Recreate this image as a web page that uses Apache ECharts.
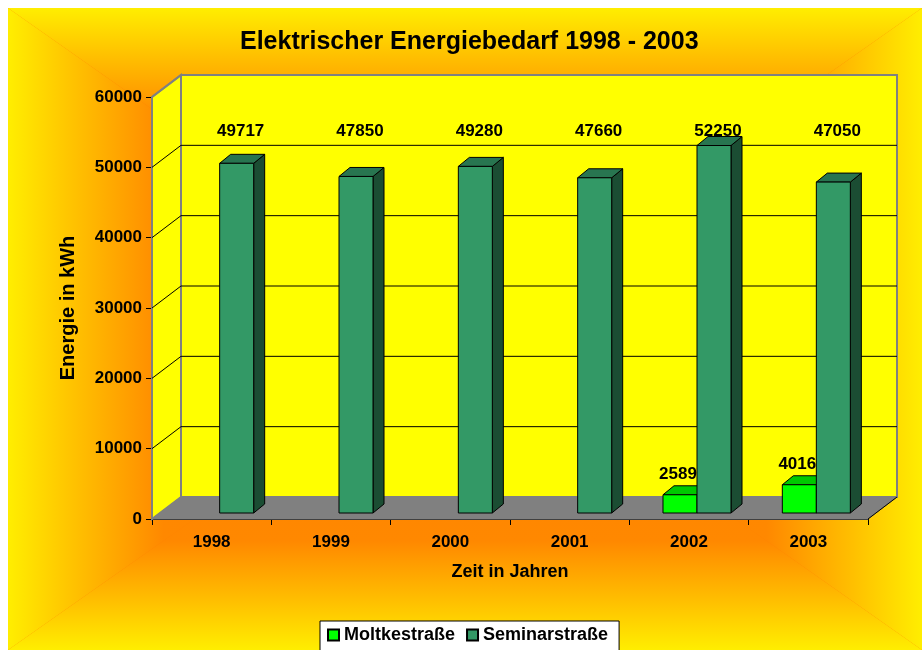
<!DOCTYPE html>
<html>
<head>
<meta charset="utf-8">
<title>Elektrischer Energiebedarf 1998 - 2003</title>
<script src="https://cdn.jsdelivr.net/npm/echarts@6/dist/echarts.min.js"></script>
<style>
  html, body { margin: 0; padding: 0; background: #fff; }
  #chart { width: 922px; height: 650px; }
</style>
</head>
<body>
<div id="chart"></div>
<script>
// Daten
const years = ['1998', '1999', '2000', '2001', '2002', '2003'];
const moltke = [null, null, null, null, 2589, 4016];
const seminar = [49717, 47850, 49280, 47660, 52250, 47050];
const yTicks = [0, 10000, 20000, 30000, 40000, 50000, 60000];

// 3D-Optik (Pixel)
const DEPTH = [29, -22];   // Rückwand gegenüber Vorderkante
const PLANE = [8, -6];     // Ebene der Säulen
const BAR_DEPTH = [11, -9];
const BAR_RATIO = 0.285;   // Säulenbreite / Kategoriebreite
const LABEL_LEVEL = 54300; // Höhe der Beschriftung der Seminarstraße
const FONT = '"Liberation Sans", Arial, sans-serif';

const chart = echarts.init(document.getElementById('chart'));

function renderWalls(params, api) {
  const cs = params.coordSys;
  const x0 = cs.x, x1 = cs.x + cs.width;
  const yT = cs.y, yB = cs.y + cs.height;
  const dx = DEPTH[0], dy = DEPTH[1];
  const kids = [];
  // Seitenwand
  kids.push({
    type: 'polygon',
    shape: { points: [[x0, yT], [x0 + dx, yT + dy], [x0 + dx, yB + dy], [x0, yB]] },
    style: { fill: '#ffff00', stroke: '#808080', lineWidth: 2 }
  });
  // Rückwand
  kids.push({
    type: 'rect',
    shape: { x: x0 + dx, y: yT + dy, width: cs.width, height: cs.height },
    style: { fill: '#ffff00', stroke: '#808080', lineWidth: 2 }
  });
  // Gitternetz
  yTicks.forEach(function (v) {
    if (v === yTicks[0] || v === yTicks[yTicks.length - 1]) return;
    const y = api.coord([0, v])[1];
    kids.push({
      type: 'polyline',
      shape: { points: [[x0, y], [x0 + dx, y + dy], [x1 + dx, y + dy]] },
      style: { stroke: '#000', lineWidth: 1, fill: null }
    });
  });
  // Boden
  kids.push({
    type: 'polygon',
    shape: { points: [[x0, yB], [x1, yB], [x1 + dx, yB + dy], [x0 + dx, yB + dy]] },
    style: { fill: '#808080', stroke: '#808080', lineWidth: 1 }
  });
  kids.push({
    type: 'polyline',
    shape: { points: [[x1, yB], [x1 + dx, yB + dy]] },
    style: { stroke: '#000', lineWidth: 1, fill: null }
  });
  kids.push({
    type: 'polyline',
    shape: { points: [[x0, yT], [x0 + dx, yT + dy]] },
    style: { stroke: '#808080', lineWidth: 2, fill: null }
  });
  return { type: 'group', children: kids };
}

function barRenderer(slot, colors, labelMode) {
  return function (params, api) {
    const idx = api.value(0);
    const v = api.value(1);
    if (v == null || isNaN(v)) return;
    const base = api.coord([idx, 0]);
    const tp = api.coord([idx, v]);
    const w = api.size([1, 0])[0] * BAR_RATIO;
    const l = base[0] + PLANE[0] + slot * w;
    const r = l + w;
    const b = base[1] + PLANE[1];
    const t = tp[1] + PLANE[1];
    const ddx = BAR_DEPTH[0], ddy = BAR_DEPTH[1];
    const line = { stroke: '#000', lineWidth: 1 };
    const kids = [
      { type: 'polygon', shape: { points: [[r, b], [r + ddx, b + ddy], [r + ddx, t + ddy], [r, t]] },
        style: Object.assign({ fill: colors.side }, line) },
      { type: 'polygon', shape: { points: [[l, t], [r, t], [r + ddx, t + ddy], [l + ddx, t + ddy]] },
        style: Object.assign({ fill: colors.top }, line) },
      { type: 'rect', shape: { x: l, y: t, width: w, height: b - t },
        style: Object.assign({ fill: colors.front }, line) }
    ];
    let lx, ly;
    if (labelMode === 'level') {
      lx = (l + r) / 2 + 4;
      ly = api.coord([idx, LABEL_LEVEL])[1] + PLANE[1];
    } else {
      lx = (l + r) / 2 - 2;
      ly = t - 20;
    }
    kids.push({
      type: 'text', x: lx, y: ly,
      style: { text: String(v), fill: '#000', font: 'bold 17px ' + FONT, align: 'center', verticalAlign: 'middle' }
    });
    return { type: 'group', children: kids };
  };
}

function toData(arr) {
  return arr.map(function (v, i) { return [i, v == null ? '-' : v]; });
}

// Hintergrund: rechteckiger Verlauf von der Mitte (gelb außen, orange innen)
const BG = { x0: 8, y0: 8, x1: 922, y1: 650 };
const cx = (BG.x0 + BG.x1) / 2, cy = (BG.y0 + BG.y1) / 2;
const edge = '#ffee00', mid = '#ffc000', core = '#ff8800', center = '#ff8000';
function grad(x, y, x2, y2) {
  return new echarts.graphic.LinearGradient(x, y, x2, y2, [
    { offset: 0, color: edge }, { offset: 0.15, color: mid },
    { offset: 0.34, color: core }, { offset: 1, color: center }
  ]);
}

const option = {
  backgroundColor: '#ffffff',
  animation: false,
  title: {
    text: 'Elektrischer Energiebedarf 1998 - 2003',
    left: 240, top: 30, padding: 0,
    textStyle: { fontFamily: FONT, fontSize: 25, fontWeight: 'bold', color: '#000' }
  },
  graphic: [
    { type: 'rect', z: -20, shape: { x: BG.x0, y: BG.y0, width: BG.x1 - BG.x0, height: BG.y1 - BG.y0 }, style: { fill: center } },
    { type: 'polygon', z: -10, shape: { points: [[BG.x0, BG.y0], [BG.x1, BG.y0], [cx, cy]] }, style: { fill: grad(0, 0, 0, 1) } },
    { type: 'polygon', z: -10, shape: { points: [[BG.x0, BG.y1], [BG.x1, BG.y1], [cx, cy]] }, style: { fill: grad(0, 1, 0, 0) } },
    { type: 'polygon', z: -10, shape: { points: [[BG.x0, BG.y0], [BG.x0, BG.y1], [cx, cy]] }, style: { fill: grad(0, 0, 1, 0) } },
    { type: 'polygon', z: -10, shape: { points: [[BG.x1, BG.y0], [BG.x1, BG.y1], [cx, cy]] }, style: { fill: grad(1, 0, 0, 0) } }
  ],
  legend: {
    data: ['Moltkestraße', 'Seminarstraße'],
    left: 320, top: 621,
    orient: 'horizontal',
    icon: 'rect',
    itemWidth: 11, itemHeight: 11, itemGap: 11,
    padding: [5, 11, 12, 7],
    backgroundColor: '#ffffff',
    borderColor: '#000', borderWidth: 1,
    textStyle: { fontFamily: FONT, fontSize: 18, fontWeight: 'bold', color: '#000' }
  },
  grid: { left: 152, right: 54, top: 97, bottom: 131, outerBoundsMode: 'none' },
  xAxis: {
    type: 'category',
    data: years,
    name: 'Zeit in Jahren',
    nameLocation: 'middle',
    nameGap: 44,
    nameTextStyle: { fontFamily: FONT, fontSize: 18, fontWeight: 'bold', color: '#000' },
    axisLine: { lineStyle: { color: '#000', width: 1 } },
    axisTick: { show: true, length: 6, lineStyle: { color: '#000' } },
    axisLabel: { margin: 15, fontFamily: FONT, fontSize: 17, fontWeight: 'bold', color: '#000' },
    splitLine: { show: false }
  },
  yAxis: {
    type: 'value',
    min: yTicks[0], max: yTicks[yTicks.length - 1], interval: 10000,
    name: 'Energie in kWh',
    nameLocation: 'middle',
    nameGap: 74,
    nameTextStyle: { fontFamily: FONT, fontSize: 20, fontWeight: 'bold', color: '#000' },
    axisLine: { show: true, lineStyle: { color: '#000', width: 1 } },
    axisTick: { show: true, length: 6, lineStyle: { color: '#000' } },
    axisLabel: {
      margin: 10, fontFamily: FONT, fontSize: 17, fontWeight: 'bold', color: '#000',
      formatter: function (v) { return String(v); }
    },
    splitLine: { show: false }
  },
  series: [
    {
      name: 'walls', type: 'custom', z: 1, silent: true, clip: false,
      renderItem: renderWalls, data: [[0, 0]]
    },
    {
      name: 'Moltkestraße', type: 'custom', z: 3, clip: false,
      itemStyle: { color: '#00ff00', borderColor: '#000', borderWidth: 1 },
      renderItem: barRenderer(-1, { front: '#00ff00', top: '#00c800', side: '#009900' }, 'top'),
      data: toData(moltke)
    },
    {
      name: 'Seminarstraße', type: 'custom', z: 3, clip: false,
      itemStyle: { color: '#339966', borderColor: '#000', borderWidth: 1 },
      renderItem: barRenderer(0, { front: '#339966', top: '#287550', side: '#1b4d33' }, 'level'),
      data: toData(seminar)
    }
  ]
};

chart.setOption(option);
</script>
</body>
</html>
